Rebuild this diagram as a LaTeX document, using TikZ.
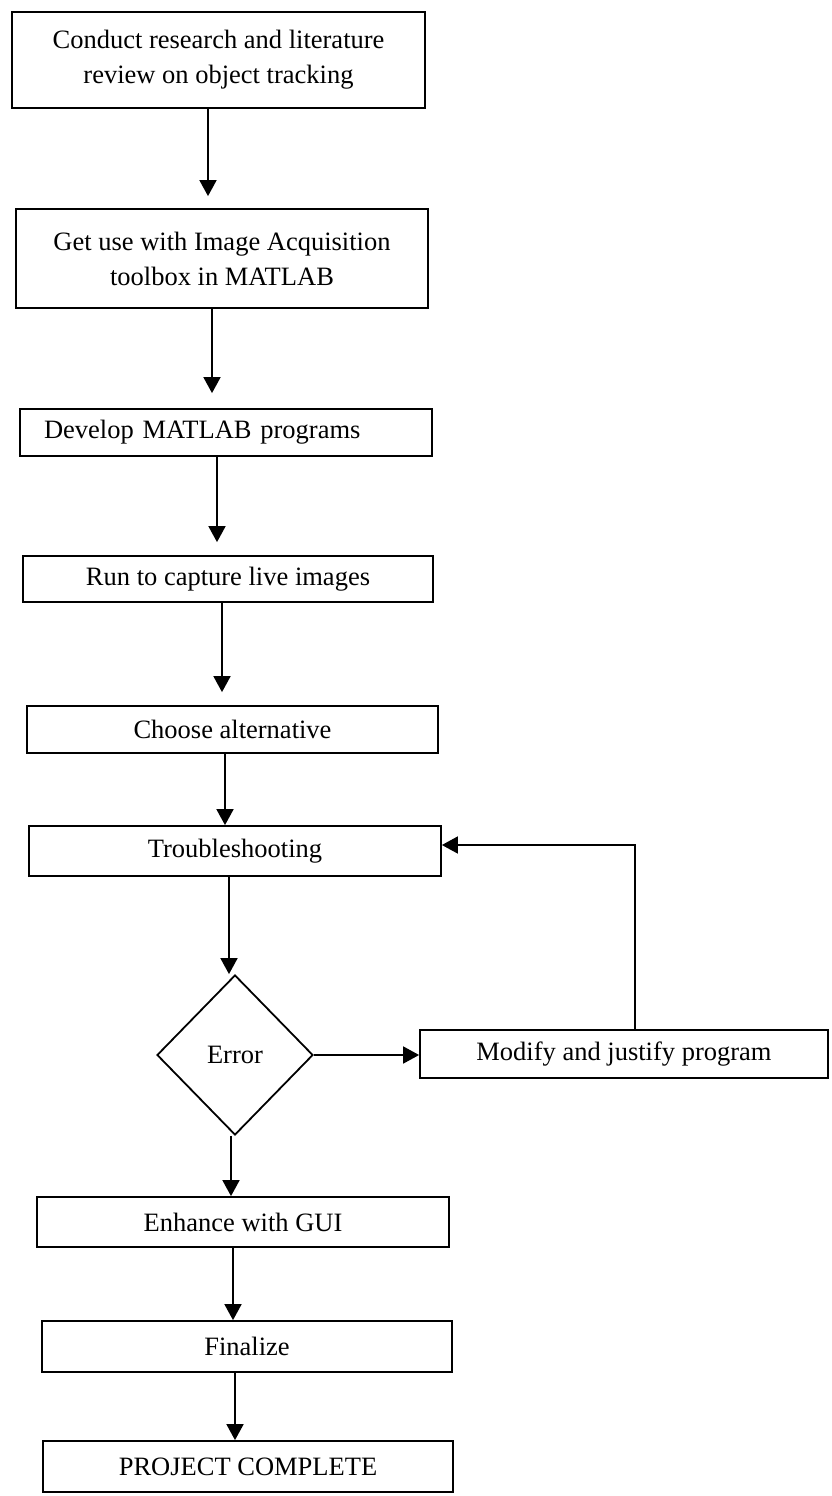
\documentclass[tikz,border=0pt]{standalone}
\usepackage{fontspec}
\setmainfont{Liberation Serif}
\usetikzlibrary{shapes.geometric,arrows.meta}
\begin{document}
\begin{tikzpicture}[x=1pt,y=-1pt,
  boxstyle/.style={draw=black, line width=1.8pt, inner sep=0pt, align=center,
    font=\fontsize{26.5}{35}\selectfont},
  decision/.style={draw=black, line width=1.8pt, diamond, inner sep=0pt,
    font=\fontsize{26.5}{35}\selectfont},
  arr/.style={draw=black, line width=1.8pt, -{Triangle[length=16pt,width=17pt]}},
  plain/.style={draw=black, line width=1.8pt}]
\useasboundingbox[fill=white] (0,0) rectangle (831,1496);
% boxes: center, width, height
\node[boxstyle, minimum width=413pt, minimum height=96pt] (b1) at (218.5,60) {Conduct research and literature\\review on object tracking};
\node[boxstyle, minimum width=412pt, minimum height=99pt] (b2) at (222,258.5) {Get use with Image Acquisition\\toolbox in MATLAB};
\node[boxstyle, minimum width=412pt, minimum height=47pt, text width=364pt, align=left, inner xsep=24pt] (b3) at (226,432.5) {Develop MATLAB programs};
\node[boxstyle, minimum width=410pt, minimum height=46pt] (b4) at (228,579) {Run to capture live images};
\node[boxstyle, minimum width=411pt, minimum height=47pt] (b5) at (232.5,729.5) {Choose alternative};
\node[boxstyle, minimum width=412pt, minimum height=50pt] (b6) at (235,851) {Troubleshooting};
\node[decision, minimum width=156pt, minimum height=160pt] (dia) at (235,1055) {Error};
\node[boxstyle, minimum width=408pt, minimum height=48pt] (b7) at (624,1054) {Modify and justify program};
\node[boxstyle, minimum width=412pt, minimum height=50pt] (b8) at (243,1222) {Enhance with GUI};
\node[boxstyle, minimum width=410pt, minimum height=51pt] (b9) at (247,1346.5) {Finalize};
\node[boxstyle, minimum width=410pt, minimum height=51pt] (b10) at (248,1466.5) {PROJECT COMPLETE};
% arrow columns
\coordinate (c1) at (208,0);
\coordinate (c2) at (212,0);
\coordinate (c3) at (217,0);
\coordinate (c4) at (222,0);
\coordinate (c5) at (225,0);
\coordinate (c6) at (229,0);
\coordinate (c8) at (231,0);
\coordinate (c9) at (233,0);
\coordinate (c10) at (235,0);
\coordinate (loopc) at (635,845);
% connectors
\draw[arr, shorten >=12pt] (b1.south -| c1) -- (b2.north -| c1);
\draw[arr, shorten >=15pt] (b2.south -| c2) -- (b3.north -| c2);
\draw[arr, shorten >=13pt] (b3.south -| c3) -- (b4.north -| c3);
\draw[arr, shorten >=13pt] (b4.south -| c4) -- (b5.north -| c4);
\draw[arr] (b5.south -| c5) -- (b6.north -| c5);
\draw[arr] (b6.south -| c6) -- (dia.north -| c6);
\draw[arr] (dia.east) -- (b7.west |- dia.east);
\draw[arr] (b7.north -| loopc) -- (loopc) -- (b6.east |- loopc);
\draw[arr] (dia.south -| c8) -- (b8.north -| c8);
\draw[arr] (b8.south -| c9) -- (b9.north -| c9);
\draw[arr] (b9.south -| c10) -- (b10.north -| c10);
\end{tikzpicture}
\end{document}
